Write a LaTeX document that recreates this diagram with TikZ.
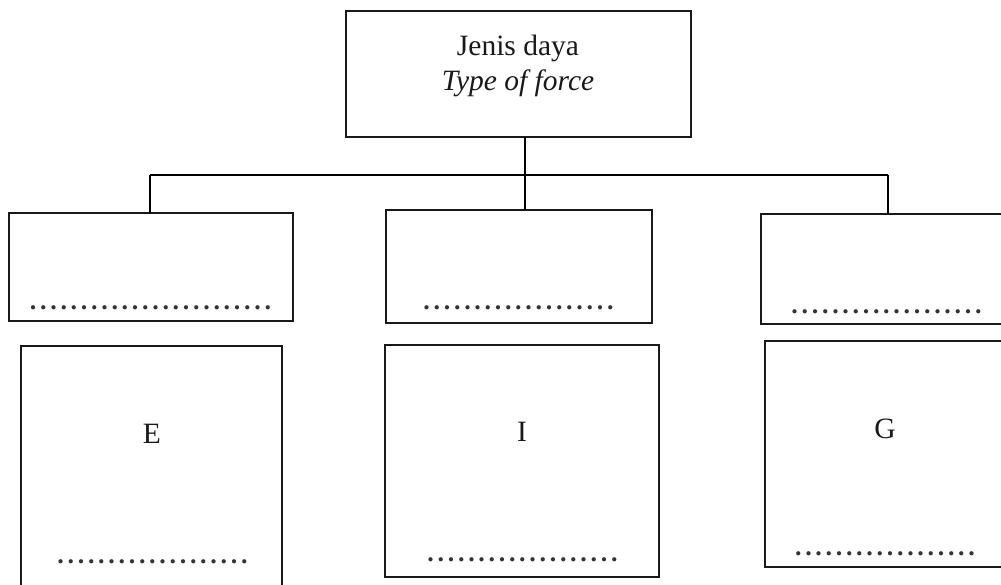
\documentclass[tikz,border=0pt]{standalone}
\usepackage{fontspec}
\setmainfont{Liberation Serif}
\newcommand\dotrow[1]{\hbox to #1pt{\cleaders\hbox to 10.2pt{\hss\textbf{.}\hss}\hfill}}
\begin{document}
\begin{tikzpicture}[x=1pt,y=-1pt,
  frame/.style={draw=black!90, line width=2.4pt, inner sep=0pt, outer sep=0pt, rectangle},
  conn/.style={draw=black, line width=2.4pt},
  lbl/.style={inner sep=0pt, font=\fontsize{29.5}{35}\selectfont, text=black!90},
  dotline/.style={inner sep=0pt, font=\fontsize{26}{26}\selectfont, text=black!80}]
\useasboundingbox (0,0) rectangle (1001,585);
\clip (0,0) rectangle (1001,585);
% boxes
\node[frame, minimum width=345pt, minimum height=126pt] (top) at (518.5,74) {};
\node[frame, minimum width=284pt, minimum height=108pt] (m1) at (151,267) {};
\node[frame, minimum width=266pt, minimum height=113pt] (m2) at (519,266.5) {};
\node[frame, minimum width=254pt, minimum height=110pt] (m3) at (888,269) {};
\node[frame, minimum width=261pt, minimum height=260pt] (b1) at (151.5,476) {};
\node[frame, minimum width=274pt, minimum height=232pt] (b2) at (522,461) {};
\node[frame, minimum width=250pt, minimum height=226pt] (b3) at (890,454) {};
% texts
\node[lbl, align=center] (toptext) at (518,66) {Jenis daya\\\textit{Type of force}};
\node[lbl] (tE) at (152,434) {E};
\node[lbl] (tI) at (522,432) {I};
\node[lbl] (tG) at (885,429) {G};
% dotted blanks
\node[dotline] (d1) at (150.5,307.5) {\dotrow{245}};
\node[dotline] (d2) at (518.5,307.5) {\dotrow{194}};
\node[dotline] (d3) at (886.5,311.5) {\dotrow{194}};
\node[dotline] (d4) at (152.5,561.5) {\dotrow{194}};
\node[dotline] (d5) at (522.5,559.5) {\dotrow{194}};
\node[dotline] (d6) at (885,553.5) {\dotrow{184}};
% connectors
\coordinate (j) at (525,175);
\coordinate (jl) at (150,175);
\coordinate (jr) at (888,175);
\draw[conn] (top.south -| j) -- (m2.north -| j);
\draw[conn] (jl) -- (jr);
\draw[conn] (jl) -- (jl |- m1.north);
\draw[conn] (jr) -- (jr |- m3.north);
\end{tikzpicture}
\end{document}
